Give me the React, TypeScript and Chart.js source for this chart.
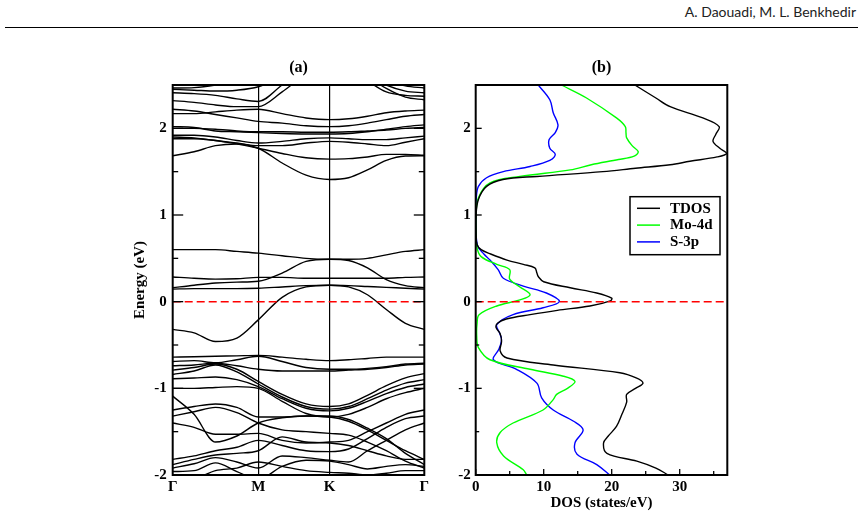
import React, { useEffect, useRef } from "react";
import { Chart, registerables } from "chart.js";

Chart.register(...registerables);

const SERIF = '"Liberation Serif", "Times New Roman", Times, serif';

// ---------- Panel (a): band structure ----------
const kPath = [0, 0.085, 0.17, 0.255, 0.34, 0.435, 0.53, 0.624, 0.699, 0.774, 0.849, 0.925, 1];
const kLabelPos = [0, 0.34, 0.624, 1];
const kLabels = ["Γ", "M", "K", "Γ"];

const bandsNearFermi = [
  [0.6, 0.6, 0.6, 0.58, 0.56, 0.53, 0.5, 0.49, 0.49, 0.5, 0.54, 0.58, 0.6],
  [0.285, 0.27, 0.26, 0.265, 0.28, 0.28, 0.27, 0.27, 0.27, 0.27, 0.27, 0.28, 0.285],
  [0.16, 0.19, 0.215, 0.225, 0.235, 0.33, 0.465, 0.49, 0.475, 0.39, 0.254, 0.185, 0.16],
  [0.145, 0.15, 0.15, 0.15, 0.155, 0.17, 0.185, 0.19, 0.185, 0.175, 0.165, 0.155, 0.145],
  [-0.32, -0.36, -0.46, -0.42, -0.21, 0.05, 0.17, 0.19, 0.17, 0.08, -0.09, -0.25, -0.32],
];

const bandsConduction = [
  [1.684, 1.73, 1.8, 1.82, 1.77, 1.6, 1.46, 1.41, 1.43, 1.52, 1.63, 1.68, 1.684],
  [1.9, 1.89, 1.86, 1.82, 1.77, 1.71, 1.66, 1.645, 1.65, 1.67, 1.7, 1.7, 1.69],
  [1.88, 1.88, 1.86, 1.83, 1.8, 1.8, 1.83, 1.85, 1.84, 1.82, 1.8, 1.84, 1.88],
  [1.92, 1.92, 1.9, 1.86, 1.83, 1.85, 1.88, 1.89, 1.88, 1.87, 1.87, 1.89, 1.91],
  [2.0, 2.0, 1.99, 1.97, 1.96, 1.96, 1.955, 1.955, 1.96, 1.97, 1.98, 2.0, 2.01],
  [2.02, 2.01, 1.97, 1.96, 1.95, 1.94, 1.935, 1.935, 1.94, 1.96, 1.99, 2.02, 2.04],
  [2.17, 2.17, 2.19, 2.21, 2.22, 2.17, 2.12, 2.1, 2.11, 2.14, 2.18, 2.2, 2.21],
  [2.22, 2.2, 2.16, 2.12, 2.08, 2.06, 2.03, 2.02, 2.03, 2.06, 2.1, 2.14, 2.16],
  [2.32, 2.3, 2.27, 2.25, 2.25, 2.42, 2.62, 2.72, 2.7, 2.6, 2.46, 2.36, 2.33],
  [2.41, 2.4, 2.38, 2.34, 2.31, 2.5, 2.7, 2.8, 2.75, 2.62, 2.5, 2.43, 2.41],
  [2.45, 2.44, 2.43, 2.44, 2.48, 2.6, 2.75, 2.8, 2.72, 2.55, 2.42, 2.38, 2.37],
  [2.465, 2.47, 2.5, 2.55, 2.6, 2.7, 2.8, 2.85, 2.8, 2.65, 2.55, 2.49, 2.465],
];

const bandsValence = [
  [-0.64, -0.635, -0.63, -0.625, -0.62, -0.64, -0.665, -0.68, -0.67, -0.655, -0.64, -0.64, -0.64],
  [-0.69, -0.68, -0.705, -0.67, -0.63, -0.69, -0.76, -0.78, -0.78, -0.77, -0.75, -0.72, -0.71],
  [-0.74, -0.73, -0.71, -0.74, -0.78, -0.8, -0.8, -0.8, -0.79, -0.78, -0.76, -0.73, -0.72],
  [-0.79, -0.76, -0.72, -0.78, -0.92, -1.07, -1.18, -1.21, -1.18, -1.08, -0.97, -0.88, -0.83],
  [-0.84, -0.8, -0.73, -0.81, -0.95, -1.1, -1.21, -1.24, -1.21, -1.12, -1.02, -0.94, -0.9],
  [-0.89, -0.88, -0.87, -0.9, -0.98, -1.12, -1.23, -1.26, -1.23, -1.15, -1.06, -0.99, -0.95],
  [-1.0, -1.0, -0.99, -0.98, -1.0, -1.15, -1.29, -1.33, -1.3, -1.22, -1.12, -1.05, -1.0],
  [-1.09, -1.3, -1.62, -1.55, -1.4, -1.34, -1.32, -1.33, -1.38, -1.48, -1.6, -1.72, -1.82],
  [-1.25, -1.21, -1.18, -1.22, -1.33, -1.33, -1.32, -1.32, -1.36, -1.46, -1.58, -1.75, -1.88],
  [-1.32, -1.27, -1.22, -1.28, -1.4, -1.48, -1.5, -1.52, -1.54, -1.62, -1.72, -1.84, -1.92],
  [-1.4, -1.45, -1.53, -1.53, -1.52, -1.6, -1.63, -1.62, -1.6, -1.5, -1.4, -1.3, -1.25],
  [-1.82, -1.78, -1.72, -1.68, -1.6, -1.66, -1.72, -1.73, -1.7, -1.58, -1.45, -1.35, -1.32],
  [-1.88, -1.82, -1.77, -1.75, -1.72, -1.56, -1.62, -1.63, -1.66, -1.72, -1.78, -1.82, -1.82],
  [-1.92, -1.87, -1.8, -1.85, -1.92, -1.78, -1.8, -1.83, -1.85, -1.72, -1.6, -1.48, -1.4],
  [-1.96, -1.95, -1.86, -1.96, -2.05, -1.9, -1.83, -1.84, -1.88, -1.93, -1.9, -1.88, -1.9],
  [-2.1, -2.05, -1.95, -1.92, -1.85, -1.9, -1.95, -1.97, -1.98, -2.0, -1.98, -1.95, -1.95],
];

const energyTicks = [-2, -1, 0, 1, 2];
const energyMinorTicks = [-1.5, -0.5, 0.5, 1.5];
const energyMin = -2;
const energyMax = 2.5;
const fermiLevel = 0;

// ---------- Panel (b): DOS ----------
const dosTicks = [0, 10, 20, 30];
const dosMinorTicks = [5, 15, 25, 35];
const dosMax = 37;

const tdosEnergy = [2.5, 2.35, 2.25, 2.12, 2.02, 1.93, 1.85, 1.77, 1.71, 1.67, 1.62, 1.58, 1.54, 1.5, 1.445, 1.41, 1.33, 1.18, 1.0, 0.8, 0.66, 0.6, 0.55, 0.48, 0.43, 0.39, 0.33, 0.29, 0.23, 0.16, 0.1, 0.04, 0.01, -0.05, -0.1, -0.15, -0.2, -0.25, -0.3, -0.37, -0.46, -0.57, -0.65, -0.73, -0.82, -0.88, -0.94, -1.0, -1.07, -1.16, -1.3, -1.44, -1.55, -1.63, -1.75, -1.84, -1.92, -2.0];
const tdosValues = [23.4, 26.5, 28.6, 33.4, 35.8, 35.3, 34.9, 35.9, 36.9, 35.5, 31.5, 28.6, 23.5, 18.7, 9.0, 4.0, 1.6, 0.4, 0.05, 0.05, 0.2, 0.8, 2.2, 4.6, 7.0, 8.7, 9.0, 9.2, 10.0, 13.9, 17.8, 20.0, 19.8, 16.8, 12.0, 8.0, 4.5, 3.2, 3.0, 3.6, 3.8, 3.6, 4.6, 11.4, 21.2, 23.6, 24.6, 23.5, 22.2, 22.2, 21.5, 20.7, 19.5, 18.8, 19.3, 23.7, 26.5, 28.3];

const mo4dEnergy = [2.5, 2.35, 2.12, 2.02, 1.95, 1.89, 1.8, 1.73, 1.68, 1.64, 1.58, 1.52, 1.445, 1.37, 1.2, 1.0, 0.8, 0.62, 0.52, 0.43, 0.37, 0.26, 0.17, 0.08, 0.02, -0.05, -0.15, -0.25, -0.4, -0.53, -0.67, -0.78, -0.86, -0.92, -1.0, -1.07, -1.13, -1.25, -1.4, -1.51, -1.63, -1.78, -1.94, -2.0];
const mo4dValues = [12.6, 16.3, 20.7, 22.0, 22.1, 22.2, 23.0, 23.9, 23.3, 21.0, 17.0, 13.9, 6.5, 2.1, 0.4, 0.05, 0.05, 0.2, 0.8, 3.1, 5.0, 5.0, 6.5, 8.0, 6.5, 3.1, 0.5, 0.2, 0.15, 0.4, 2.1, 8.0, 12.9, 14.6, 13.5, 11.9, 11.4, 9.9, 5.5, 3.6, 3.1, 4.1, 7.0, 7.5];

const s3pEnergy = [2.5, 2.33, 2.18, 2.04, 1.95, 1.87, 1.77, 1.7, 1.63, 1.56, 1.5, 1.43, 1.33, 1.21, 1.0, 0.8, 0.64, 0.55, 0.48, 0.37, 0.27, 0.18, 0.1, 0.0, -0.07, -0.15, -0.265, -0.36, -0.44, -0.55, -0.67, -0.78, -0.94, -1.11, -1.25, -1.38, -1.48, -1.63, -1.76, -1.88, -2.0];
const s3pValues = [9.2, 10.9, 11.4, 12.1, 11.7, 10.8, 10.9, 11.7, 10.9, 8.0, 4.06, 1.6, 0.4, 0.1, 0.05, 0.05, 0.3, 1.2, 2.1, 3.3, 4.06, 7.0, 10.4, 12.3, 9.9, 5.5, 3.1, 3.5, 3.8, 3.4, 2.6, 6.0, 9.0, 9.7, 11.4, 14.4, 15.8, 14.6, 14.9, 17.8, 19.7];

const dosSeries = [
  { label: "TDOS", color: "#000000", energy: tdosEnergy, values: tdosValues },
  { label: "Mo-4d", color: "#00ff00", energy: mo4dEnergy, values: mo4dValues },
  { label: "S-3p", color: "#0000ff", energy: s3pEnergy, values: s3pValues },
];

// ---------- plugins ----------
type TickSide = { side: "left" | "right" | "bottom"; major: number[]; minor: number[]; majorLen: number; minorLen: number };

function makeFramePlugin(sides: TickSide[]) {
  return {
    id: "frameTicks",
    afterDatasetsDraw(chart: any) {
      const { ctx, chartArea: a, scales } = chart;
      ctx.save();
      ctx.strokeStyle = "#000";
      ctx.lineWidth = 1.3;
      const seg = (x1: number, y1: number, x2: number, y2: number) => {
        ctx.beginPath();
        ctx.moveTo(x1, y1);
        ctx.lineTo(x2, y2);
        ctx.stroke();
      };
      for (const s of sides) {
        const groups: [number[], number][] = [
          [s.major, s.majorLen],
          [s.minor, s.minorLen],
        ];
        for (const [vals, len] of groups) {
          for (const v of vals) {
            if (s.side === "left") {
              const p = scales.y.getPixelForValue(v);
              seg(a.left, p, a.left + len, p);
            } else if (s.side === "right") {
              const p = scales.y.getPixelForValue(v);
              seg(a.right, p, a.right - len, p);
            } else {
              const p = scales.x.getPixelForValue(v);
              seg(p, a.bottom, p, a.bottom - len);
            }
          }
        }
      }
      ctx.lineWidth = 2;
      ctx.strokeRect(a.left, a.top, a.right - a.left, a.bottom - a.top);
      ctx.restore();
    },
  };
}

const insetLegendPlugin = {
  id: "insetLegend",
  afterDraw(chart: any) {
    const { ctx, chartArea: a } = chart;
    const items = chart.data.datasets.filter((d: any) => d.label);
    const w = 90;
    const h = 58;
    const x0 = a.right - 7.3 - w;
    const y0 = a.top + 111.7;
    ctx.save();
    ctx.fillStyle = "#fff";
    ctx.fillRect(x0, y0, w, h);
    ctx.strokeStyle = "#000";
    ctx.lineWidth = 1.5;
    ctx.strokeRect(x0, y0, w, h);
    ctx.font = `bold 15px ${SERIF}`;
    ctx.textBaseline = "middle";
    ctx.textAlign = "left";
    items.forEach((d: any, i: number) => {
      const yy = y0 + 11.6 + i * 16.8;
      ctx.strokeStyle = d.borderColor;
      ctx.lineWidth = 1.5;
      ctx.beginPath();
      ctx.moveTo(x0 + 7, yy);
      ctx.lineTo(x0 + 30, yy);
      ctx.stroke();
      ctx.fillStyle = "#000";
      ctx.fillText(d.label, x0 + 40, yy + 0.5);
    });
    ctx.restore();
  },
};

const tickFont = { family: SERIF, size: 15, weight: "bold" as const };

function bandConfig(): any {
  const allBands = [...bandsConduction, ...bandsNearFermi, ...bandsValence];
  const datasets: any[] = [
    {
      data: [
        { x: 0, y: fermiLevel },
        { x: 1, y: fermiLevel },
      ],
      showLine: true,
      borderColor: "#ff0000",
      borderDash: [8, 4],
      borderWidth: 1.5,
      pointRadius: 0,
    },
    ...allBands.map((band) => ({
      data: band.map((e, i) => ({ x: kPath[i], y: e })),
      showLine: true,
      borderColor: "#000",
      borderWidth: 1.4,
      pointRadius: 0,
      cubicInterpolationMode: "monotone",
    })),
  ];
  return {
    type: "scatter",
    data: { datasets },
    options: {
      animation: false,
      responsive: false,
      events: [],
      layout: { padding: { left: 0, right: 15.7, top: 0, bottom: 0 } },
      plugins: {
        legend: { display: false },
        tooltip: { enabled: false },
        title: {
          display: true,
          text: "(a)",
          fullSize: false,
          color: "#000",
          font: { family: SERIF, size: 16, weight: "bold" },
          padding: { top: 3.4, bottom: 7.4 },
        },
      },
      scales: {
        x: {
          type: "linear",
          min: 0,
          max: 1,
          afterBuildTicks: (s: any) => {
            s.ticks = kLabelPos.map((v) => ({ value: v }));
          },
          afterFit: (s: any) => {
            s.height = 40;
          },
          ticks: {
            callback: (_v: any, i: number) => kLabels[i],
            color: "#000",
            font: tickFont,
            padding: 3,
            autoSkip: false,
            maxRotation: 0,
          },
          grid: {
            drawTicks: false,
            lineWidth: 1.2,
            color: (c: any) => (c.index === 1 || c.index === 2 ? "#000" : "rgba(0,0,0,0)"),
          },
          border: { display: false },
        },
        y: {
          type: "linear",
          min: energyMin,
          max: energyMax,
          afterBuildTicks: (s: any) => {
            s.ticks = energyTicks.map((v) => ({ value: v }));
          },
          afterFit: (s: any) => {
            s.width = 62.7;
          },
          ticks: { color: "#000", font: tickFont, padding: 6, callback: (v: any) => String(v) },
          grid: { display: false, drawTicks: false },
          border: { display: false },
          title: {
            display: true,
            text: "Energy (eV)",
            color: "#000",
            font: { family: SERIF, size: 15, weight: "bold" },
            padding: { top: 21.6, bottom: 0 },
          },
        },
      },
    },
    plugins: [
      makeFramePlugin([
        { side: "left", major: energyTicks, minor: energyMinorTicks, majorLen: 10.5, minorLen: 5.5 },
        { side: "right", major: energyTicks, minor: energyMinorTicks, majorLen: 10.5, minorLen: 5.5 },
      ]),
    ],
  };
}

function dosConfig(): any {
  const datasets: any[] = [
    {
      data: [
        { x: 0, y: fermiLevel },
        { x: dosMax, y: fermiLevel },
      ],
      showLine: true,
      borderColor: "#ff0000",
      borderDash: [8, 4],
      borderWidth: 1.5,
      pointRadius: 0,
    },
    ...dosSeries.map((s) => ({
      label: s.label,
      data: s.energy.map((e, i) => ({ x: s.values[i], y: e })),
      showLine: true,
      borderColor: s.color,
      borderWidth: 1.4,
      pointRadius: 0,
      tension: 0.35,
    })),
  ];
  return {
    type: "scatter",
    data: { datasets },
    options: {
      animation: false,
      responsive: false,
      events: [],
      layout: { padding: { left: 0, right: 12.7, top: 0, bottom: 0 } },
      plugins: {
        legend: { display: false },
        tooltip: { enabled: false },
        title: {
          display: true,
          text: "(b)",
          fullSize: false,
          color: "#000",
          font: { family: SERIF, size: 16, weight: "bold" },
          padding: { top: 3.4, bottom: 7.4 },
        },
      },
      scales: {
        x: {
          type: "linear",
          min: 0,
          max: dosMax,
          afterBuildTicks: (s: any) => {
            s.ticks = dosTicks.map((v) => ({ value: v }));
          },
          afterFit: (s: any) => {
            s.height = 40;
          },
          ticks: { color: "#000", font: tickFont, padding: 2.7, autoSkip: false, maxRotation: 0, callback: (v: any) => String(v) },
          grid: { display: false, drawTicks: false },
          border: { display: false },
          title: {
            display: true,
            text: "DOS (states/eV)",
            color: "#000",
            font: { family: SERIF, size: 15, weight: "bold" },
            padding: { top: 0, bottom: 2.5 },
          },
        },
        y: {
          type: "linear",
          min: energyMin,
          max: energyMax,
          afterBuildTicks: (s: any) => {
            s.ticks = energyTicks.map((v) => ({ value: v }));
          },
          afterFit: (s: any) => {
            s.width = 35.7;
          },
          ticks: { color: "#000", font: tickFont, padding: 5, callback: (v: any) => String(v) },
          grid: { display: false, drawTicks: false },
          border: { display: false },
        },
      },
    },
    plugins: [
      makeFramePlugin([
        { side: "left", major: energyTicks, minor: energyMinorTicks, majorLen: 6, minorLen: 3.5 },
        { side: "bottom", major: dosTicks, minor: dosMinorTicks, majorLen: 6, minorLen: 4 },
      ]),
      insetLegendPlugin,
    ],
  };
}

export default function App() {
  const bandRef = useRef<HTMLCanvasElement>(null);
  const dosRef = useRef<HTMLCanvasElement>(null);

  useEffect(() => {
    const c1 = new Chart(bandRef.current as HTMLCanvasElement, bandConfig());
    const c2 = new Chart(dosRef.current as HTMLCanvasElement, dosConfig());
    return () => {
      c1.destroy();
      c2.destroy();
    };
  }, []);

  return (
    <div style={{ position: "absolute", left: 0, top: 0, width: 863, height: 518, background: "#fff", overflow: "hidden" }}>
      <div
        style={{
          position: "absolute",
          right: 7,
          top: 3,
          font: '14px Lato, "Open Sans", sans-serif',
          lineHeight: "17px",
          color: "#222",
          whiteSpace: "nowrap",
        }}
      >
        A. Daouadi, M. L. Benkhedir
      </div>
      <div style={{ position: "absolute", left: 5, top: 27, width: 853, height: 1, background: "#000" }} />
      <canvas
        ref={bandRef}
        width={330}
        height={460}
        style={{ position: "absolute", left: 110, top: 55, width: 330, height: 460 }}
      />
      <canvas
        ref={dosRef}
        width={300}
        height={460}
        style={{ position: "absolute", left: 440, top: 55, width: 300, height: 460 }}
      />
    </div>
  );
}
